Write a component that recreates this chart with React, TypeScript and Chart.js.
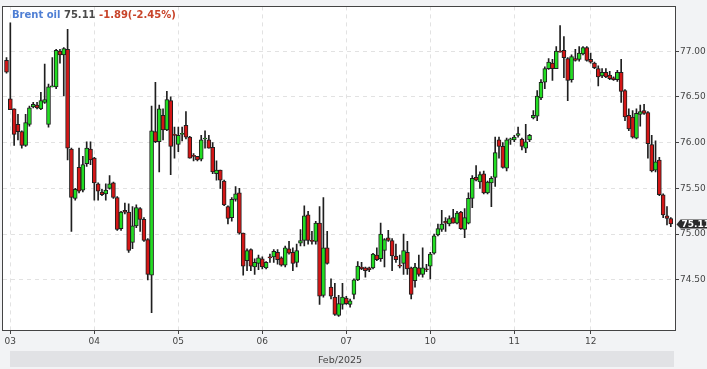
import React, { useEffect, useRef } from 'react';
import { Chart, registerables } from 'chart.js';

Chart.register(...registerables);

// ---- data ----
const titleName = 'Brent oil';
const lastPriceText = '75.11';
const changeText = '-1.89(-2.45%)';
const monthLabel = 'Feb/2025';

const dayLabels = ['03', '04', '05', '06', '07', '10', '11', '12'];
const dayStartIndex = [1, 23, 45, 67, 89, 111, 133, 153];
const yTickValues = [74.5, 75, 75.5, 76, 76.5, 77];

const opens = [
  76.90, 76.48, 76.37, 76.20, 76.12, 75.97, 76.20, 76.39, 76.41, 76.37,
  76.44, 76.20, 76.61, 76.61, 77.00, 76.96, 77.02, 75.93, 75.39, 75.73,
  75.48, 75.77, 75.93, 75.83, 75.55, 75.46, 75.44, 75.50, 75.56, 75.40,
  75.06, 75.26, 75.24, 74.91, 75.09, 75.28, 75.16, 74.94, 74.55, 76.12,
  76.01, 76.30, 76.14, 76.46, 76.09, 75.98, 76.09, 76.19, 76.06, 75.86,
  75.85, 75.82, 76.04, 76.03, 75.95, 75.66, 75.70, 75.58, 75.30, 75.18,
  75.38, 75.45, 75.01, 74.71, 74.83, 74.64, 74.68, 74.73, 74.63, 74.75,
  74.75, 74.80, 74.74, 74.66, 74.84, 74.80, 74.69, 74.90, 74.93, 75.21,
  74.93, 74.92, 75.12, 74.33, 74.85, 74.42, 74.31, 74.11, 74.23, 74.30,
  74.23, 74.34, 74.50, 74.64, 74.63, 74.63, 74.63, 74.77, 74.73, 74.82,
  74.96, 74.93, 74.76, 74.66, 74.68, 74.80, 74.63, 74.49, 74.63, 74.56,
  74.62, 74.65, 74.79, 74.99, 75.05, 75.14, 75.11, 75.18, 75.12, 75.24,
  75.05, 75.12, 75.39, 75.62, 75.57, 75.66, 75.45, 75.56, 75.62, 76.03,
  75.96, 75.72, 76.03, 76.03, 76.08, 76.04, 75.94, 76.03, 76.27, 76.29,
  76.49, 76.66, 76.81, 76.87, 76.81, 77.00, 77.01, 76.92, 76.69, 76.92,
  76.91, 76.97, 77.04, 76.91, 76.87, 76.81, 76.73, 76.77, 76.74, 76.71,
  76.69, 76.77, 76.57, 76.30, 76.28, 76.05, 76.31, 76.35, 76.33, 75.98,
  75.70, 75.81, 75.43, 75.20, 75.17,
];
const highs = [
  76.93, 77.31, 76.37, 76.31, 76.13, 76.31, 76.40, 76.44, 76.44, 76.55,
  76.86, 76.64, 76.93, 77.02, 77.02, 77.04, 77.24, 75.94, 75.50, 75.94,
  75.85, 76.01, 76.01, 75.84, 75.56, 75.49, 75.55, 75.64, 75.57, 75.41,
  75.25, 75.34, 75.33, 75.30, 75.32, 75.29, 75.18, 74.95, 76.40, 76.66,
  76.41, 76.37, 76.56, 76.50, 76.17, 76.17, 76.17, 76.34, 76.07, 75.88,
  75.85, 76.08, 76.13, 76.08, 76.00, 75.80, 75.70, 75.59, 75.31, 75.40,
  75.52, 75.50, 75.01, 74.84, 74.84, 74.73, 74.77, 74.75, 74.70, 74.78,
  74.83, 74.83, 74.75, 74.87, 74.92, 74.85, 74.89, 75.05, 75.31, 75.25,
  75.03, 75.14, 75.30, 75.40, 75.03, 74.51, 74.46, 74.33, 74.46, 74.32,
  74.29, 74.51, 74.70, 74.69, 74.64, 74.64, 74.79, 74.85, 75.12, 74.95,
  75.04, 74.95, 74.89, 74.77, 75.00, 74.92, 74.64, 74.68, 74.77, 74.85,
  74.67, 74.80, 75.00, 75.11, 75.26, 75.18, 75.20, 75.27, 75.25, 75.25,
  75.28, 75.45, 75.64, 75.75, 75.68, 75.69, 75.58, 75.63, 76.06, 76.06,
  76.00, 76.05, 76.05, 76.08, 76.17, 76.05, 76.20, 76.09, 76.35, 76.57,
  76.69, 76.83, 76.92, 76.91, 77.05, 77.28, 77.16, 76.93, 76.96, 77.02,
  77.05, 77.05, 77.05, 76.98, 76.88, 76.84, 76.81, 76.81, 76.78, 76.72,
  76.79, 76.91, 76.58, 76.37, 76.35, 76.37, 76.41, 76.42, 76.34, 76.08,
  76.02, 75.84, 75.44, 75.30, 75.18,
];
const lows = [
  76.76, 76.36, 75.97, 76.03, 75.94, 75.96, 76.18, 76.38, 76.37, 76.36,
  76.43, 76.17, 76.61, 76.59, 76.87, 76.51, 75.81, 75.03, 75.37, 75.45,
  75.46, 75.74, 75.76, 75.37, 75.37, 75.42, 75.37, 75.49, 75.39, 75.04,
  75.04, 75.22, 74.80, 74.84, 75.07, 75.03, 74.92, 74.50, 74.14, 76.00,
  75.68, 76.03, 76.13, 75.65, 75.83, 75.90, 76.02, 76.04, 75.83, 75.80,
  75.80, 75.80, 75.94, 75.94, 75.66, 75.59, 75.50, 75.31, 75.11, 75.14,
  75.36, 75.00, 74.55, 74.60, 74.60, 74.56, 74.61, 74.62, 74.62, 74.69,
  74.69, 74.67, 74.65, 74.64, 74.78, 74.60, 74.64, 74.87, 74.87, 74.89,
  74.89, 74.89, 74.23, 74.31, 74.67, 74.29, 74.11, 74.10, 74.18, 74.23,
  74.20, 74.29, 74.49, 74.61, 74.53, 74.59, 74.62, 74.71, 74.70, 74.64,
  74.92, 74.60, 74.69, 74.63, 74.56, 74.56, 74.29, 74.42, 74.54, 74.53,
  74.59, 74.51, 74.78, 74.98, 75.03, 75.03, 75.09, 75.12, 75.11, 75.05,
  74.96, 75.11, 75.29, 75.58, 75.50, 75.44, 75.44, 75.30, 75.52, 75.83,
  75.72, 75.69, 75.98, 76.01, 76.06, 75.92, 75.89, 76.01, 76.26, 76.24,
  76.47, 76.59, 76.80, 76.68, 76.81, 76.99, 76.71, 76.46, 76.66, 76.89,
  76.89, 76.96, 76.89, 76.87, 76.81, 76.62, 76.71, 76.71, 76.69, 76.68,
  76.67, 76.44, 76.24, 76.13, 76.05, 76.04, 76.18, 76.31, 75.83, 75.68,
  75.68, 75.42, 75.18, 75.10, 75.08,
];
const closes = [
  76.77, 76.36, 76.09, 76.12, 75.97, 76.22, 76.38, 76.42, 76.38, 76.46,
  76.47, 76.61, 76.62, 77.01, 76.96, 77.03, 75.94, 75.40, 75.49, 75.47,
  75.76, 75.94, 75.81, 75.56, 75.47, 75.43, 75.48, 75.55, 75.40, 75.05,
  75.24, 75.24, 74.82, 75.09, 75.29, 75.16, 74.93, 74.56, 76.13, 76.01,
  76.37, 76.14, 76.47, 75.96, 76.08, 76.08, 76.10, 76.06, 75.83, 75.85,
  75.81, 76.03, 76.05, 75.94, 75.68, 75.70, 75.59, 75.32, 75.17, 75.38,
  75.44, 75.01, 74.65, 74.82, 74.65, 74.69, 74.74, 74.64, 74.69, 74.74,
  74.81, 74.72, 74.66, 74.85, 74.79, 74.68, 74.82, 74.93, 75.20, 74.93,
  74.92, 75.12, 74.32, 74.85, 74.68, 74.32, 74.12, 74.24, 74.31, 74.24,
  74.27, 74.50, 74.65, 74.62, 74.60, 74.61, 74.78, 74.72, 75.00, 74.94,
  74.93, 74.76, 74.72, 74.65, 74.82, 74.62, 74.34, 74.64, 74.56, 74.63,
  74.61, 74.78, 74.98, 75.06, 75.11, 75.12, 75.17, 75.12, 75.23, 75.06,
  75.18, 75.39, 75.61, 75.59, 75.65, 75.45, 75.57, 75.61, 75.89, 75.96,
  75.73, 76.03, 76.04, 76.06, 76.10, 75.96, 76.01, 76.08, 76.30, 76.51,
  76.66, 76.81, 76.88, 76.81, 77.00, 76.99, 76.93, 76.68, 76.94, 76.90,
  76.98, 77.04, 76.90, 76.88, 76.82, 76.72, 76.77, 76.72, 76.70, 76.69,
  76.77, 76.56, 76.28, 76.15, 76.06, 76.32, 76.34, 76.32, 75.99, 75.69,
  75.79, 75.43, 75.21, 75.17, 75.11,
];

// ---- styling ----
const FONT = "'DejaVu Sans', Verdana, sans-serif";
const UP = '#22dd22';
const DOWN = '#d41616';
const EDGE = '#1f1f1f';
const GRID = '#e2e2e2';
const AXIS = '#444444';
const TEXT = '#444444';

const decorPlugin = {
  id: 'decor',
  beforeDraw(chart: any) {
    const { ctx, chartArea, width, height } = chart;
    ctx.save();
    ctx.fillStyle = '#f2f3f5';
    ctx.fillRect(0, 0, width, height);
    ctx.fillStyle = '#ffffff';
    ctx.fillRect(chartArea.left, chartArea.top, chartArea.right - chartArea.left, chartArea.bottom - chartArea.top);
    // navigator band
    ctx.fillStyle = '#e1e2e5';
    ctx.fillRect(10, 351, chartArea.right - 11, 16);
    ctx.fillStyle = TEXT;
    ctx.font = `9.5px ${FONT}`;
    ctx.textAlign = 'center';
    ctx.textBaseline = 'alphabetic';
    ctx.fillText(monthLabel, 340, 363);
    ctx.restore();
  },
  afterDraw(chart: any) {
    const { ctx, chartArea } = chart;
    ctx.save();
    // frame
    ctx.strokeStyle = AXIS;
    ctx.lineWidth = 1;
    ctx.strokeRect(
      Math.floor(chartArea.left) - 0.5,
      Math.floor(chartArea.top) + 0.5,
      Math.round(chartArea.right) - Math.floor(chartArea.left) + 1,
      Math.round(chartArea.bottom) - Math.floor(chartArea.top) - 1
    );
    // title
    ctx.font = `bold 10px ${FONT}`;
    ctx.textBaseline = 'alphabetic';
    ctx.textAlign = 'left';
    let x = 12;
    const y = 18;
    ctx.fillStyle = '#4f7fd4';
    ctx.fillText(titleName, x, y);
    x += ctx.measureText(titleName + ' ').width;
    ctx.fillStyle = '#4a4a4a';
    ctx.fillText(lastPriceText, x, y);
    x += ctx.measureText(lastPriceText + ' ').width;
    ctx.fillStyle = '#c8442a';
    ctx.fillText(changeText, x, y);
    // last price marker
    const yScale = chart.scales.y;
    const py = Math.round(yScale.getPixelForValue(closes[closes.length - 1])) + 0.5;
    const left = chartArea.right + 1.5;
    ctx.fillStyle = '#2a2a2a';
    ctx.beginPath();
    ctx.moveTo(left, py);
    ctx.lineTo(left + 4, py - 5);
    ctx.lineTo(chart.width, py - 5);
    ctx.lineTo(chart.width, py + 4);
    ctx.lineTo(left + 4, py + 4);
    ctx.closePath();
    ctx.fill();
    ctx.fillStyle = '#ffffff';
    ctx.font = `bold 9px ${FONT}`;
    ctx.textBaseline = 'middle';
    ctx.fillText(lastPriceText, left + 5, py);
    ctx.restore();
  },
};

export default function App() {
  const ref = useRef<HTMLCanvasElement | null>(null);

  useEffect(() => {
    document.body.style.margin = '0';
    document.body.style.overflow = 'hidden';
    const canvas = ref.current;
    if (!canvas) return;

    const bodies = opens.map((o, i) => ({ x: i, y: [o, closes[i]] }));
    const wicks = lows.map((l, i) => ({ x: i, y: [l, highs[i]] }));
    const bodyColors = opens.map((o, i) => (closes[i] >= o ? UP : DOWN));

    const chart = new Chart(canvas, {
      type: 'bar',
      data: {
        datasets: [
          {
            label: 'body',
            data: bodies as any,
            backgroundColor: bodyColors,
            borderColor: EDGE,
            borderWidth: 1,
            borderSkipped: false,
            barThickness: 4,
            minBarLength: 1,
            grouped: false,
          } as any,
          {
            label: 'wick',
            data: wicks as any,
            backgroundColor: EDGE,
            borderWidth: 0,
            barThickness: 1,
            grouped: false,
          } as any,
        ],
      },
      options: {
        animation: false,
        responsive: false,
        maintainAspectRatio: false,
        layout: { padding: { left: 3, top: 3, right: 0, bottom: 0 } },
        plugins: { legend: { display: false }, tooltip: { enabled: false } },
        scales: {
          x: {
            type: 'linear',
            min: -0.92,
            max: 175.1,
            offset: false,
            afterBuildTicks: (s: any) => {
              s.ticks = dayStartIndex.map((v) => ({ value: v }));
            },
            afterFit: (s: any) => {
              s.height = 38;
            },
            ticks: {
              autoSkip: false,
              maxRotation: 0,
              padding: 2,
              color: TEXT,
              font: { family: FONT, size: 9 },
              callback: (v: any) => {
                const k = dayStartIndex.indexOf(Number(v));
                return k >= 0 ? dayLabels[k] : '';
              },
            },
            grid: {
              offset: false,
              color: GRID,
              lineWidth: 1,
              tickColor: AXIS,
              tickLength: 3,
              tickBorderDash: [1, 0],
            },
            border: { display: false, dash: [4, 4] },
          } as any,
          y: {
            type: 'linear',
            position: 'right',
            min: 73.94,
            max: 77.49,
            afterBuildTicks: (s: any) => {
              s.ticks = yTickValues.map((v) => ({ value: v }));
            },
            afterFit: (s: any) => {
              s.width = 32;
            },
            ticks: {
              padding: 1,
              color: TEXT,
              font: { family: FONT, size: 9 },
              callback: (v: any) => Number(v).toFixed(2),
            },
            grid: {
              offset: false,
              color: GRID,
              lineWidth: 1,
              tickColor: AXIS,
              tickLength: 4,
              tickBorderDash: [1, 0],
            },
            border: { display: false, dash: [4, 4] },
          } as any,
        },
      },
      plugins: [decorPlugin],
    });

    return () => chart.destroy();
  }, []);

  return (
    <div style={{ width: 707, height: 369, overflow: 'hidden' }}>
      <canvas ref={ref} width={707} height={369} style={{ display: 'block', width: 707, height: 369 }} />
    </div>
  );
}
